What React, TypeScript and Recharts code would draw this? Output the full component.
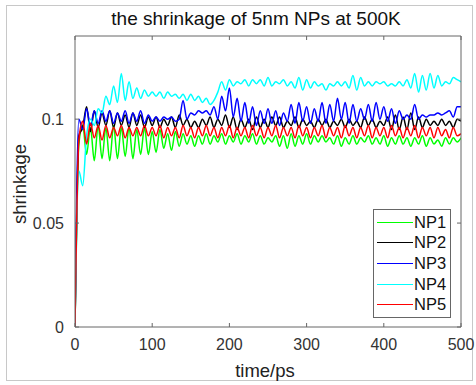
import { LineChart, Line, XAxis, YAxis, Legend } from "recharts";

// sampled every 5 ps, from 0 to 500
const STEP = 5;

const np1 = [
  0, 0.088, 0.097, 0.083, 0.096, 0.080, 0.097, 0.081, 0.096, 0.080,
  0.097, 0.081, 0.096, 0.082, 0.096, 0.081, 0.095, 0.083, 0.096, 0.083,
  0.094, 0.084, 0.095, 0.086, 0.093, 0.085, 0.094, 0.087, 0.093, 0.088,
  0.092, 0.087, 0.092, 0.088, 0.093, 0.088, 0.092, 0.089, 0.093, 0.088,
  0.092, 0.089, 0.093, 0.088, 0.092, 0.089, 0.093, 0.088, 0.092, 0.088,
  0.091, 0.089, 0.092, 0.087, 0.092, 0.086, 0.093, 0.087, 0.092, 0.088,
  0.093, 0.088, 0.092, 0.089, 0.092, 0.089, 0.091, 0.088, 0.092, 0.087,
  0.091, 0.088, 0.092, 0.088, 0.091, 0.089, 0.092, 0.088, 0.091, 0.088,
  0.092, 0.087, 0.091, 0.088, 0.092, 0.088, 0.091, 0.087, 0.091, 0.088,
  0.092, 0.087, 0.091, 0.088, 0.090, 0.087, 0.091, 0.088, 0.091, 0.089,
  0.091,
];

const np2 = [
  0, 0.092, 0.096, 0.106, 0.094, 0.104, 0.096, 0.103, 0.097, 0.104,
  0.096, 0.103, 0.097, 0.102, 0.096, 0.103, 0.097, 0.102, 0.096, 0.101,
  0.097, 0.101, 0.096, 0.100, 0.097, 0.101, 0.096, 0.102, 0.097, 0.100,
  0.096, 0.099, 0.096, 0.100, 0.097, 0.101, 0.096, 0.100, 0.097, 0.102,
  0.096, 0.101, 0.095, 0.100, 0.096, 0.100, 0.095, 0.101, 0.096, 0.100,
  0.096, 0.101, 0.097, 0.101, 0.096, 0.099, 0.097, 0.101, 0.096, 0.100,
  0.097, 0.099, 0.096, 0.100, 0.097, 0.100, 0.096, 0.099, 0.097, 0.100,
  0.096, 0.100, 0.097, 0.099, 0.096, 0.101, 0.097, 0.100, 0.096, 0.099,
  0.097, 0.101, 0.095, 0.102, 0.095, 0.101, 0.095, 0.103, 0.095, 0.101,
  0.096, 0.100, 0.097, 0.099, 0.097, 0.100, 0.097, 0.099, 0.096, 0.100,
  0.099,
];

const np3 = [
  0, 0.100, 0.095, 0.105, 0.097, 0.104, 0.098, 0.104, 0.099, 0.104,
  0.098, 0.103, 0.099, 0.104, 0.098, 0.103, 0.099, 0.104, 0.098, 0.102,
  0.099, 0.101, 0.099, 0.101, 0.100, 0.101, 0.099, 0.100, 0.109, 0.100,
  0.103, 0.102, 0.104, 0.103, 0.104, 0.102, 0.106, 0.100, 0.111, 0.104,
  0.115, 0.101, 0.110, 0.099, 0.108, 0.098, 0.106, 0.097, 0.104, 0.098,
  0.105, 0.098, 0.104, 0.097, 0.103, 0.099, 0.107, 0.098, 0.108, 0.099,
  0.106, 0.098, 0.105, 0.099, 0.108, 0.098, 0.107, 0.099, 0.110, 0.100,
  0.108, 0.098, 0.107, 0.099, 0.105, 0.100, 0.107, 0.099, 0.108, 0.100,
  0.106, 0.099, 0.105, 0.098, 0.104, 0.100, 0.102, 0.100, 0.107, 0.100,
  0.102, 0.101, 0.102, 0.102, 0.103, 0.102, 0.103, 0.104, 0.101, 0.106,
  0.106,
];

const np4 = [
  0, 0.075, 0.068, 0.092, 0.100, 0.097, 0.105, 0.103, 0.111, 0.107,
  0.116, 0.108, 0.122, 0.109, 0.118, 0.110, 0.115, 0.110, 0.114, 0.111,
  0.113, 0.111, 0.113, 0.110, 0.113, 0.111, 0.112, 0.110, 0.112, 0.109,
  0.112, 0.109, 0.111, 0.108, 0.110, 0.107, 0.109, 0.113, 0.118, 0.114,
  0.119, 0.116, 0.118, 0.117, 0.119, 0.116, 0.119, 0.117, 0.119, 0.116,
  0.120, 0.116, 0.118, 0.117, 0.119, 0.116, 0.118, 0.115, 0.120, 0.114,
  0.119, 0.115, 0.118, 0.116, 0.117, 0.114, 0.117, 0.116, 0.118, 0.116,
  0.118, 0.115, 0.121, 0.114, 0.120, 0.116, 0.118, 0.116, 0.118, 0.117,
  0.118, 0.116, 0.117, 0.116, 0.118, 0.116, 0.119, 0.115, 0.122, 0.113,
  0.121, 0.114, 0.122, 0.115, 0.121, 0.116, 0.118, 0.117, 0.120, 0.119,
  0.118,
];

const np5 = [
  0, 0.090, 0.099, 0.088, 0.098, 0.091, 0.097, 0.090, 0.097, 0.091,
  0.096, 0.092, 0.097, 0.091, 0.096, 0.092, 0.096, 0.092, 0.097, 0.092,
  0.096, 0.092, 0.097, 0.091, 0.096, 0.092, 0.096, 0.091, 0.097, 0.092,
  0.096, 0.091, 0.096, 0.092, 0.097, 0.092, 0.096, 0.091, 0.096, 0.092,
  0.097, 0.091, 0.096, 0.092, 0.096, 0.091, 0.097, 0.092, 0.096, 0.091,
  0.096, 0.092, 0.097, 0.091, 0.096, 0.092, 0.096, 0.091, 0.097, 0.092,
  0.096, 0.091, 0.096, 0.092, 0.097, 0.091, 0.096, 0.092, 0.096, 0.091,
  0.097, 0.092, 0.096, 0.091, 0.096, 0.092, 0.097, 0.091, 0.096, 0.092,
  0.096, 0.091, 0.097, 0.092, 0.096, 0.091, 0.096, 0.092, 0.097, 0.091,
  0.096, 0.092, 0.096, 0.091, 0.096, 0.092, 0.095, 0.091, 0.096, 0.092,
  0.093,
];

const series = [
  { key: "NP1", values: np1, color: "#00ff00" },
  { key: "NP2", values: np2, color: "#000000" },
  { key: "NP3", values: np3, color: "#0000ff" },
  { key: "NP4", values: np4, color: "#00ffff" },
  { key: "NP5", values: np5, color: "#ff0000" },
];

const xTicks = [0, 100, 200, 300, 400, 500];
const yTicks = [0, 0.05, 0.1];

const data = np1.map((_, i) => {
  const row: Record<string, number> = { t: i * STEP };
  series.forEach((s) => (row[s.key] = s.values[i]));
  return row;
});

const font = "'Liberation Sans', Arial, sans-serif";
const axisColor = "#666";
const tickStyle = { fontSize: 16, fill: "#333", fontFamily: font };
const TICK = 4;

function LegendBox() {
  return (
    <div
      style={{
        width: 78,
        height: 109,
        border: `1px solid ${axisColor}`,
        background: "#fff",
        fontFamily: font,
        fontSize: 16.5,
        color: "#111",
        boxSizing: "border-box",
        paddingTop: 2,
      }}
    >
      {series.map((s) => (
        <div
          key={s.key}
          style={{ display: "flex", alignItems: "center", height: 20.6 }}
        >
          <div
            style={{
              width: 36,
              height: 1,
              background: s.color,
              marginLeft: 3,
              marginRight: 1,
            }}
          />
          <span>{s.key}</span>
        </div>
      ))}
    </div>
  );
}

export default function App() {
  return (
    <div
      style={{
        position: "absolute",
        left: 0,
        top: 0,
        width: 476,
        height: 385,
        background: "#fff",
      }}
    >
      <div
        style={{
          position: "absolute",
          left: 6,
          top: 5,
          width: 467,
          height: 376,
          border: "1px solid #c8c8c8",
          boxSizing: "border-box",
        }}
      />
      <div
        style={{
          position: "absolute",
          left: 56,
          width: 400,
          top: 8,
          textAlign: "center",
          fontFamily: font,
          fontSize: 19,
          color: "#111",
        }}
      >
        the shrinkage of 5nm NPs at 500K
      </div>
      <div
        style={{
          position: "absolute",
          left: 65,
          width: 400,
          top: 360,
          textAlign: "center",
          fontFamily: font,
          fontSize: 18.5,
          color: "#222",
        }}
      >
        time/ps
      </div>
      <div
        style={{
          position: "absolute",
          left: 20,
          top: 184,
          transform: "translate(-50%, -50%) rotate(-90deg)",
          fontFamily: font,
          fontSize: 18.5,
          color: "#222",
          whiteSpace: "nowrap",
        }}
      >
        shrinkage
      </div>
      <LineChart
        width={476}
        height={385}
        data={data}
        margin={{ top: 35, right: 14, bottom: 0, left: 0 }}
        style={{ position: "absolute", left: 0, top: 0 }}
      >
        <XAxis
          dataKey="t"
          type="number"
          domain={[0, 500]}
          ticks={xTicks}
          height={58}
          tickSize={TICK}
          tickMargin={8}
          tickLine={{ transform: `translate(0,-${TICK})` }}
          tick={tickStyle}
          stroke={axisColor}
          allowDataOverflow
        />
        <XAxis
          xAxisId="top"
          orientation="top"
          dataKey="t"
          type="number"
          domain={[0, 500]}
          ticks={xTicks}
          height={1}
          tickSize={TICK}
          tickLine={{ transform: `translate(0,${TICK})` }}
          tickFormatter={() => ""}
          stroke={axisColor}
        />
        <YAxis
          type="number"
          domain={[0, 0.14]}
          ticks={yTicks}
          width={75}
          tickSize={TICK}
          tickMargin={7}
          tickLine={{ transform: `translate(${TICK},0)` }}
          tick={tickStyle}
          tickFormatter={(v: number) => String(v)}
          stroke={axisColor}
          allowDataOverflow
        />
        <YAxis
          yAxisId="right"
          orientation="right"
          type="number"
          domain={[0, 0.14]}
          ticks={yTicks}
          width={1}
          tickSize={TICK}
          tickLine={{ transform: `translate(-${TICK},0)` }}
          tickFormatter={() => ""}
          stroke={axisColor}
        />
        {/* invisible series so the top and right frame axes get drawn */}
        <Line
          xAxisId="top"
          yAxisId="right"
          dataKey="NP1"
          stroke="none"
          dot={false}
          legendType="none"
          isAnimationActive={false}
        />
        {series.map((s) => (
          <Line
            key={s.key}
            dataKey={s.key}
            name={s.key}
            type="monotone"
            stroke={s.color}
            strokeWidth={1.5}
            dot={false}
            isAnimationActive={false}
          />
        ))}
        <Legend
          layout="horizontal"
          verticalAlign="middle"
          align="center"
          content={() => <LegendBox />}
          wrapperStyle={{ position: "absolute", left: 373, top: 209, width: 78 }}
        />
      </LineChart>
    </div>
  );
}
